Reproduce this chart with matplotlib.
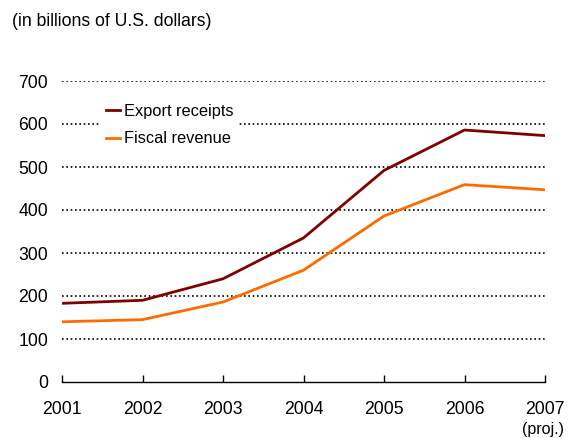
import matplotlib
matplotlib.use("Agg")
import matplotlib.pyplot as plt

plt.rcParams['font.family'] = ['Liberation Sans', 'DejaVu Sans']

years = [2001, 2002, 2003, 2004, 2005, 2006, 2007]
year_labels = ["2001", "2002", "2003", "2004", "2005", "2006", "2007"]
export_receipts = [183, 190, 240, 335, 492, 586, 573]
fiscal_revenue = [140, 145, 186, 260, 386, 459, 447]
yticks = [0, 100, 200, 300, 400, 500, 600, 700]

fig = plt.figure(figsize=(5.69, 4.38), dpi=100)
ax = fig.add_axes([62/569, 56/438, (545-62)/569, (382-81)/438])

for y in yticks[1:]:
    ax.axhline(y, color='black', lw=1.2, linestyle=(0, (1, 1.6)), zorder=1)

ax.plot(years, export_receipts, color='#800000', lw=2, label='Export receipts', zorder=3)
ax.plot(years, fiscal_revenue, color='#FF6A00', lw=2, label='Fiscal revenue', zorder=3)

ax.set_xlim(2001, 2007)
ax.set_ylim(0, 700)
ax.set_yticks(yticks)
ax.set_xticks(years)
ax.set_xticklabels(year_labels)
for s in ['left', 'right', 'top']:
    ax.spines[s].set_visible(False)
ax.spines['bottom'].set_linewidth(1)
ax.tick_params(axis='y', length=0, pad=10, labelsize=12.7)
ax.tick_params(axis='x', direction='in', length=5, width=1, pad=14, labelsize=12.7)

fig.text(564/569, 1 - 422/438, "(proj.)", ha='right', va='top', fontsize=11.5)

fig.text(12/569, 1 - 22/438, "(in billions of U.S. dollars)", fontsize=12.7, ha='left', va='center')

leg = ax.legend(loc='upper left', bbox_to_anchor=(0.063, 0.967), frameon=True, fontsize=11.8,
                handlelength=0.9, handletextpad=0.2, labelspacing=0.75, borderpad=0.3,
                facecolor='white', edgecolor='none', framealpha=1, fancybox=False)
leg.set_zorder(2)

fig.savefig("out.png", dpi=100)
